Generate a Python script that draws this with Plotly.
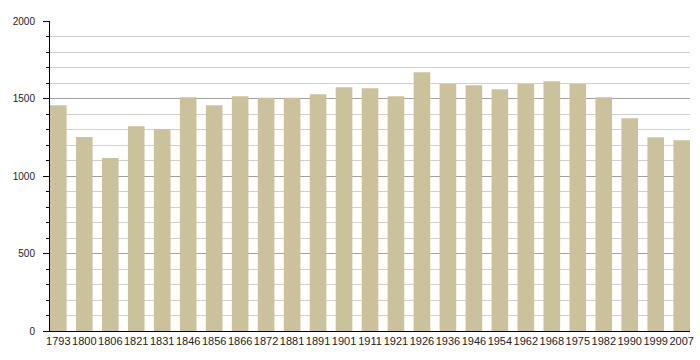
import plotly.graph_objects as go

years = ["1793", "1800", "1806", "1821", "1831", "1846", "1856", "1866", "1872", "1881",
         "1891", "1901", "1911", "1921", "1926", "1936", "1946", "1954", "1962", "1968",
         "1975", "1982", "1990", "1999", "2007"]
population = [1456, 1252, 1116, 1321, 1301, 1508, 1456, 1514, 1505, 1505,
              1527, 1572, 1566, 1514, 1669, 1594, 1585, 1559, 1594, 1611,
              1594, 1508, 1372, 1250, 1230]

fig = go.Figure(go.Bar(x=years, y=population, marker=dict(color="#CBC19B", line=dict(width=0)),
                       hoverinfo="x+y"))

fig.update_layout(
    width=700, height=360,
    margin=dict(l=50, r=10, t=21, b=29, autoexpand=False),
    plot_bgcolor="white", paper_bgcolor="white",
    bargap=0.36,
    showlegend=False,
    font=dict(family="Liberation Sans, Arial, sans-serif", size=11, color="#222"),
)
fig.update_xaxes(
    type="category", range=[-0.32, len(years) - 1 + 0.32],
    showline=True, linecolor="black", linewidth=1,
    ticks="", showgrid=False, tickangle=0, tickfont=dict(size=11),
    automargin=False,
)
fig.update_yaxes(
    range=[0, 2000], dtick=500, tick0=0,
    showline=True, linecolor="black", linewidth=1,
    showgrid=True, gridcolor="#A0A0A0", gridwidth=1,
    ticks="outside", ticklen=6, tickcolor="black",
    zeroline=False,
    minor=dict(dtick=100, showgrid=True, gridcolor="#D0D0D0", ticks="outside", ticklen=3, tickcolor="black"),
    tickfont=dict(size=10),
    ticklabelstandoff=6,
    automargin=False,
)

fig.write_html("out.html", config={"displayModeBar": False},
               post_script="document.body.style.margin='0';")
